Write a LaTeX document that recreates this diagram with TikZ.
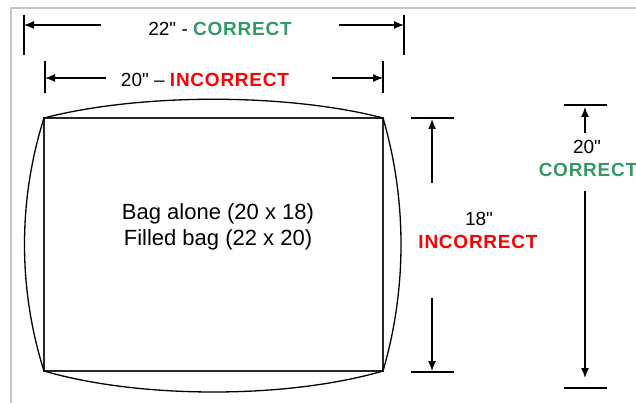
\documentclass[tikz,border=0pt]{standalone}
\usepackage{fontspec}
\setmainfont{Liberation Sans}[Ligatures=TeXOff]
\newfontfamily\lblbold[LetterSpace=4]{Liberation Sans Bold}
\usetikzlibrary{arrows.meta}
\definecolor{okgreen}{HTML}{339966}
\definecolor{badred}{HTML}{FF0000}
\newcommand\inch{\char"22\relax}
\begin{document}
\begin{tikzpicture}[x=1pt,y=-1pt,
  frame/.style={draw=black!22,line width=1.6pt},
  outline/.style={draw=black!85,line width=1.4pt},
  bulge/.style={draw=black,line width=1.3pt},
  tick/.style={draw=black,line width=1.3pt},
  dimarrow/.style={draw=black,line width=1.3pt,-{Latex[length=10pt,width=8pt]}},
  lbl/.style={inner sep=0pt,font=\fontsize{19}{22}\selectfont},
  body/.style={inner sep=0pt,align=center,font=\fontsize{22}{26}\selectfont}]
\useasboundingbox (0,0) rectangle (636,403);
% frame
\draw[frame] (11,403) -- (11,8) -- (636,8);
% bag rectangle
\node[outline,minimum width=339pt,minimum height=253pt,inner sep=0pt] (bag) at (213.5,244.5) {};
\coordinate (tl) at (44,118);
\coordinate (tr) at (383,118);
\coordinate (bl) at (44,371);
\coordinate (br) at (383,371);
% bulges
\draw[bulge] (tl) .. controls (140,93) and (287,93) .. (tr);
\draw[bulge] (bl) .. controls (140,399) and (287,399) .. (br);
\draw[bulge] (tl) .. controls (18,200) and (18,289) .. (bl);
\draw[bulge] (tr) .. controls (407,200) and (407,289) .. (br);
% centre text
\node[body] (txt) at (218,227) {Bag alone (20 x 18)\\Filled bag (22 x 20)};
% 22" correct
\coordinate (a1t) at (24,15); \coordinate (a1b) at (24,55);
\coordinate (a2t) at (404,15); \coordinate (a2b) at (404,55);
\draw[tick] (a1t) -- (a1b);
\draw[tick] (a2t) -- (a2b);
\coordinate (a1s) at (101,25); \coordinate (a1e) at (24,25);
\coordinate (a2s) at (339,25); \coordinate (a2e) at (404,25);
\draw[dimarrow] (a1s) -- (a1e);
\draw[dimarrow] (a2s) -- (a2e);
\node[lbl] (l22) at (220,29) {22\inch{} - {\lblbold\color{okgreen}CORRECT}};
% 20" incorrect
\coordinate (b1t) at (45,61); \coordinate (b1b) at (45,93);
\coordinate (b2t) at (383,61); \coordinate (b2b) at (383,93);
\draw[tick] (b1t) -- (b1b);
\draw[tick] (b2t) -- (b2b);
\coordinate (b1s) at (106,78); \coordinate (b1e) at (45,78);
\coordinate (b2s) at (332,78); \coordinate (b2e) at (383,78);
\draw[dimarrow] (b1s) -- (b1e);
\draw[dimarrow] (b2s) -- (b2e);
\node[lbl] (l20i) at (205,80) {20\inch{} – {\lblbold\color{badred}INCORRECT}};
% 18" incorrect
\coordinate (c1l) at (411,118); \coordinate (c1r) at (454,118);
\coordinate (c2l) at (411,372); \coordinate (c2r) at (454,372);
\draw[tick] (c1l) -- (c1r);
\draw[tick] (c2l) -- (c2r);
\coordinate (c1s) at (432,183); \coordinate (c1e) at (432,119);
\coordinate (c2s) at (432,298); \coordinate (c2e) at (432,371);
\draw[dimarrow] (c1s) -- (c1e);
\draw[dimarrow] (c2s) -- (c2e);
\node[lbl] (l18) at (479,219) {18\inch};
\node[lbl,font=\lblbold\fontsize{19}{22}\selectfont,text=badred] (l18i) at (478,242) {INCORRECT};
% 20" correct
\coordinate (d1l) at (564,105); \coordinate (d1r) at (607,105);
\coordinate (d2l) at (564,388); \coordinate (d2r) at (607,388);
\draw[tick] (d1l) -- (d1r);
\draw[tick] (d2l) -- (d2r);
\coordinate (d1s) at (585,133); \coordinate (d1e) at (585,107);
\coordinate (d2s) at (585,191); \coordinate (d2e) at (585,378);
\draw[dimarrow] (d1s) -- (d1e);
\draw[dimarrow] (d2s) -- (d2e);
\node[lbl] (l20c) at (587,147) {20\inch};
\node[lbl,font=\lblbold\fontsize{19}{22}\selectfont,text=okgreen] (l20cc) at (588,170) {CORRECT};
\end{tikzpicture}
\end{document}
